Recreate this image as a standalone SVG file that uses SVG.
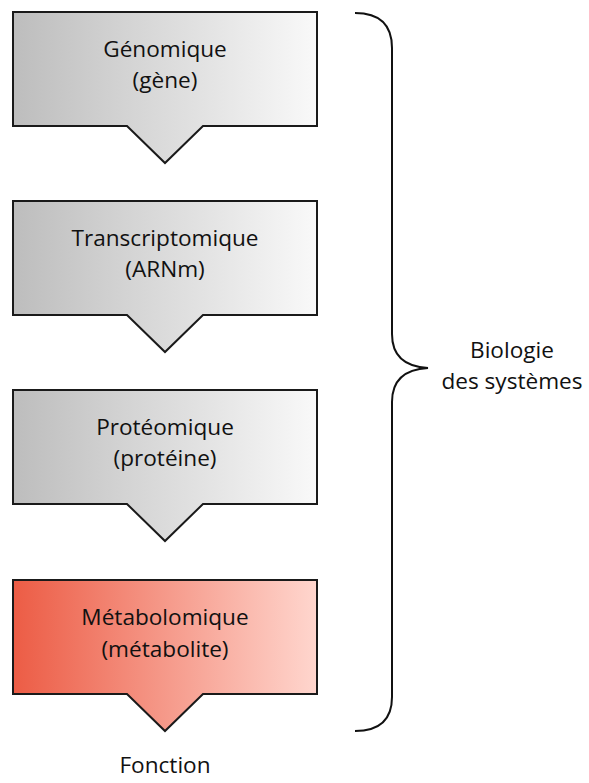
<svg xmlns="http://www.w3.org/2000/svg" width="589" height="783" viewBox="0 0 589 783">
<defs>
<linearGradient id="gGray" x1="0" y1="0" x2="1" y2="0">
<stop offset="0" stop-color="#bdbdbd"/>
<stop offset="1" stop-color="#f9f9f9"/>
</linearGradient>
<linearGradient id="gRed" x1="0" y1="0" x2="1" y2="0">
<stop offset="0" stop-color="#ec5c45"/>
<stop offset="1" stop-color="#ffd6ce"/>
</linearGradient>
<path id="shape" d="M13,0 H317 V114 H203 L165,151 L127,114 H13 Z"/>
</defs>
<style>
.box{stroke:#1a1a1a;stroke-width:2;stroke-linejoin:miter}
.t{font-family:"Open Sans","Liberation Sans",sans-serif;font-size:22.6px;fill:#111;text-anchor:middle}
.brace{fill:none;stroke:#111;stroke-width:2}
</style>
<rect width="589" height="783" fill="#ffffff"/>
<g id="genomique" transform="translate(0,12)">
<use href="#shape" class="box" fill="url(#gGray)"/>
<text class="t" x="165" y="45">Génomique</text>
<text class="t" x="165" y="76">(gène)</text>
</g>
<g id="transcriptomique" transform="translate(0,201)">
<use href="#shape" class="box" fill="url(#gGray)"/>
<text class="t" x="165" y="45">Transcriptomique</text>
<text class="t" x="165" y="76">(ARNm)</text>
</g>
<g id="proteomique" transform="translate(0,390)">
<use href="#shape" class="box" fill="url(#gGray)"/>
<text class="t" x="165" y="45">Protéomique</text>
<text class="t" x="165" y="76">(protéine)</text>
</g>
<g id="metabolomique" transform="translate(0,580)">
<use href="#shape" class="box" fill="url(#gRed)"/>
<text class="t" x="165" y="45">Métabolomique</text>
<text class="t" x="165" y="77">(métabolite)</text>
</g>
<g id="fonction">
<text class="t" x="165" y="773">Fonction</text>
</g>
<g id="connectors">
<path class="brace" d="M355,13 Q392,13 392,48 V334 Q392,366 428,368 Q392,370 392,402 V697 Q392,731 355,731"/>
</g>
<g id="biologie">
<text class="t" x="512" y="358">Biologie</text>
<text class="t" x="512" y="389">des systèmes</text>
</g>
</svg>
